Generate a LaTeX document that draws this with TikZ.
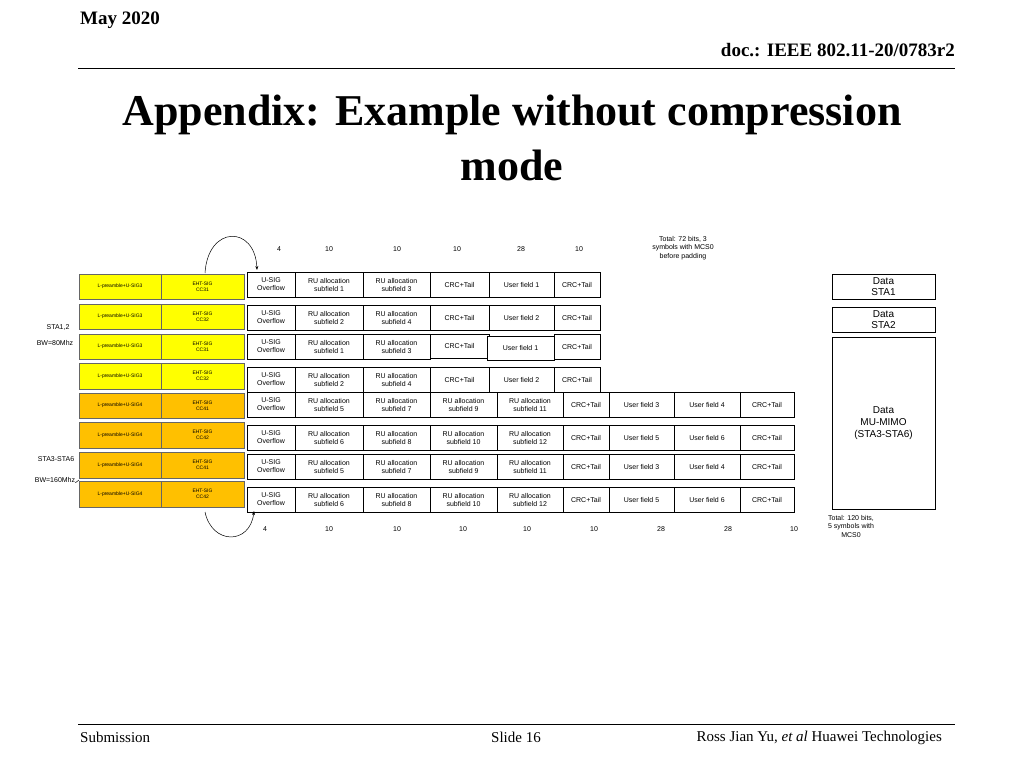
\documentclass[tikz,border=0pt]{standalone}
\usepackage{fontspec}
\setmainfont{Liberation Serif}
\newfontfamily\arial{Liberation Sans}
\usetikzlibrary{arrows.meta}
\definecolor{yel}{HTML}{FFFF00}
\definecolor{org}{HTML}{FFC000}
\tikzset{
  cellb/.style={draw,line width=0.8pt,fill=white,inner sep=0pt,align=center,font=\arial\fontsize{7}{8}\selectfont},
  lbox/.style={draw=black!60,line width=0.6pt,inner sep=0pt,align=center,font=\arial\fontsize{5}{6}\selectfont},
  lbl/.style={font=\arial\fontsize{7}{8.5}\selectfont,align=center,inner sep=0pt},
}
\newcommand\cellbox[7][cellb]{\node[#1,minimum width=#4-#3,minimum height=#6-#5] (#2) at ({(#3+#4)/2},{(#5+#6)/2}) {#7};}
\begin{document}
\begin{tikzpicture}[x=1pt,y=-1pt]
\useasboundingbox (0,0) rectangle (1024,768);
% header
\node[anchor=west,font=\bfseries\fontsize{19}{22}\selectfont,inner sep=0] (may) at (80,20) {May 2020};
\node[anchor=east,font=\bfseries\fontsize{19}{22}\selectfont,inner sep=0] (doc) at (955,50) {doc.: IEEE 802.11-20/0783r2};
\draw[line width=1pt] (78,68) -- (955,68);
\node[font=\bfseries\fontsize{44}{55}\selectfont,align=center,inner sep=0] (title) at (512,138) {Appendix: Example without compression\\mode};
% footer
\draw[line width=1pt] (78,724) -- (955,724);
\node[anchor=west,font=\fontsize{15}{18}\selectfont,inner sep=0] (sub) at (80,737) {Submission};
\node[font=\fontsize{15}{18}\selectfont,inner sep=0] (slide) at (516,737) {Slide 16};
\node[anchor=east,font=\fontsize{15}{18}\selectfont,inner sep=0] (auth) at (942,738) {Ross Jian Yu, \textit{et al} Huawei Technologies};
% left boxes
\foreach \i/\t/\b/\u/\c/\col in {1/274/299/3/31/yel,2/304/329/3/32/yel,3/334/359/3/31/yel,4/363/389/3/32/yel,5/393/418/4/41/org,6/422/448/4/42/org,7/452/478/4/41/org,8/481/507/4/42/org}{
  \cellbox[lbox,fill=\col]{lp\i}{79}{161}{\t}{\b}{L-preamble+U-SIG\u}
  \cellbox[lbox,fill=\col]{es\i}{161}{244}{\t}{\b}{EHT-SIG\\CC\c}
}
% table rows
\foreach \i/\t/\b/\a/\bb in {1/272/297/1/3,2/305/330/2/4,3/334/359/1/3,4/367/392/2/4}{
  \cellbox{us\i}{247}{295}{\t}{\b}{U-SIG\\Overflow}
  \cellbox{ra\i}{295}{363}{\t}{\b}{RU allocation\\subfield \a}
  \cellbox{rb\i}{363}{430}{\t}{\b}{RU allocation\\subfield \bb}
}
\cellbox{ca1}{430}{489}{272}{297}{CRC+Tail}
\cellbox{uf1}{489}{554}{272}{297}{User field 1}
\cellbox{cb1}{554}{600}{272}{297}{CRC+Tail}
\cellbox{ca2}{430}{489}{305}{330}{CRC+Tail}
\cellbox{uf2}{489}{554}{305}{330}{User field 2}
\cellbox{cb2}{554}{600}{305}{330}{CRC+Tail}
\cellbox{ca3}{430}{489}{334}{358}{CRC+Tail}
\cellbox{uf3}{487}{554}{336}{360}{User field 1}
\cellbox{cb3}{554}{600}{334}{359}{CRC+Tail}
\cellbox{ca4}{430}{489}{367}{392}{CRC+Tail}
\cellbox{uf4}{489}{554}{367}{392}{User field 2}
\cellbox{cb4}{554}{600}{367}{392}{CRC+Tail}
\foreach \i/\t/\b/\a/\bb/\cc/\dd/\ua/\ub in {5/392/417/5/7/9/11/3/4,6/425/450/6/8/10/12/5/6,7/454/479/5/7/9/11/3/4,8/487/512/6/8/10/12/5/6}{
  \cellbox{us\i}{247}{295}{\t}{\b}{U-SIG\\Overflow}
  \cellbox{ra\i}{295}{363}{\t}{\b}{RU allocation\\subfield \a}
  \cellbox{rb\i}{363}{430}{\t}{\b}{RU allocation\\subfield \bb}
  \cellbox{rc\i}{430}{497}{\t}{\b}{RU allocation\\subfield \cc}
  \cellbox{rd\i}{497}{563}{\t}{\b}{RU allocation\\subfield \dd}
  \cellbox{ca\i}{563}{609}{\t}{\b}{CRC+Tail}
  \cellbox{ua\i}{609}{674}{\t}{\b}{User field \ua}
  \cellbox{ub\i}{674}{740}{\t}{\b}{User field \ub}
  \cellbox{cb\i}{740}{794}{\t}{\b}{CRC+Tail}
}
% dots
\foreach \i/\y in {1/286,2/316,3/345,4/381,5/402,6/434,7/462,8/497}{\node[lbl] (dt\i) at (838,\y) {...};}
% data boxes
\cellbox[cellb,font=\arial\fontsize{10}{11}\selectfont]{d1}{832}{935}{274}{299}{Data\\STA1}
\cellbox[cellb,font=\arial\fontsize{10}{11}\selectfont]{d2}{832}{935}{307}{332}{Data\\STA2}
\cellbox[cellb,font=\arial\fontsize{10}{12}\selectfont]{d3}{832}{935}{337}{509}{Data\\MU-MIMO\\(STA3-STA6)}
% numbers
\foreach \n/\x/\v in {t1/279/4,t2/329/10,t3/397/10,t4/457/10,t5/521/28,t6/579/10}{\node[lbl] (\n) at (\x,249) {\v};}
\node[lbl] (tot1) at (683,248) {Total: 72 bits, 3\\symbols with MCS0\\before padding};
\foreach \n/\x/\v in {b1/265/4,b2/329/10,b3/397/10,b4/463/10,b5/527/10,b6/594/10,b7/661/28,b8/728/28,b9/794/10}{\node[lbl] (\n) at (\x,529) {\v};}
\node[lbl] (tot2) at (851,526) {Total: 120 bits,\\5 symbols with\\MCS0};
% side labels
\node[lbl] (s1) at (58,327) {STA1,2};
\node[lbl] (s2) at (55,343) {BW=80Mhz};
\node[lbl] (s3) at (56,459) {STA3-STA6};
\node[lbl] (s4) at (55,480) {BW=160Mhz};
\draw[line width=0.5pt] (s4.south east) -- (79,480);
% arcs
\coordinate (a1) at (205,273); \coordinate (a2) at (257,270);
\draw[-{Stealth[length=4pt]},line width=0.5pt] (a1) .. controls (208,225) and (255,225) .. (a2);
\coordinate (a3) at (205,512); \coordinate (a4) at (254,511);
\draw[-{Stealth[length=4pt]},line width=0.5pt] (a3) .. controls (212,545) and (250,545) .. (a4);
\end{tikzpicture}
\end{document}
